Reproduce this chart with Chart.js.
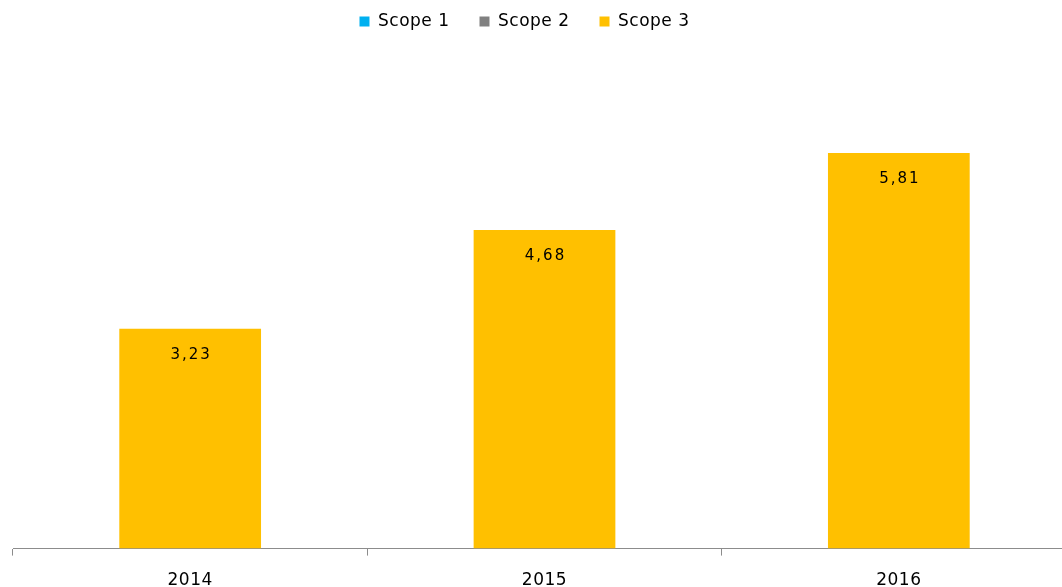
<!DOCTYPE html>
<html>
<head>
<meta charset="utf-8">
<script src="https://cdn.jsdelivr.net/npm/chart.js@4/dist/chart.umd.min.js"></script>
<style>
    html, body { margin: 0; padding: 0; background: #fff; overflow: hidden; }
    #wrap { width: 1090px; height: 606px; }
</style>
</head>
<body>
<div id="wrap"><canvas id="myChart"></canvas></div>
<script>
// Chart data
const years = ['2014', '2015', '2016'];
const scope1 = [0, 0, 0];
const scope2 = [0, 0, 0];
const scope3 = [3.23, 4.68, 5.81];

// Wider letter spacing, the reference font is spaced out
const spacing = {
    id: 'spacing',
    beforeUpdate(chart) { chart.ctx.letterSpacing = '0.5px'; },
    beforeDraw(chart) { chart.ctx.letterSpacing = '0.5px'; },
    beforeInit(chart) {
        // Push the plot area down below the legend
        const fit = chart.legend.fit;
        chart.legend.fit = function () {
            fit.call(this);
            this.height = 89;
        };
    },
    afterLayout(chart) {
        // legend sits a bit left of the centre in the original
        chart.legend.left -= 20;
        chart.legend.right -= 20;
    }
};

// Draws the value inside the top of each Scope 3 bar, with a comma as decimal mark
const valueLabels = {
    id: 'valueLabels',
    afterDatasetsDraw(chart) {
        const ctx = chart.ctx;
        ctx.save();
        ctx.letterSpacing = '2px';
        ctx.font = '15px "DejaVu Sans"';
        ctx.fillStyle = '#000';
        ctx.textAlign = 'center';
        ctx.textBaseline = 'middle';
        chart.data.datasets.forEach((ds, i) => {
            if (ds.label !== 'Scope 3') return;
            chart.getDatasetMeta(i).data.forEach((bar, j) => {
                const text = ds.data[j].toFixed(2).replace('.', ',');
                ctx.fillText(text, bar.x + 1, bar.y + 26);
            });
        });
        ctx.restore();
    }
};

const ctx = document.getElementById('myChart').getContext('2d');
let myChart = new Chart(ctx, {
    type: 'bar',
    data: {
        labels: years,
        datasets: [
            { label: 'Scope 1', data: scope1, backgroundColor: '#00B0F0' },
            { label: 'Scope 2', data: scope2, backgroundColor: '#808080' },
            { label: 'Scope 3', data: scope3, backgroundColor: '#FFC000' },
        ],
    },
    options: {
        responsive: true,
        maintainAspectRatio: false,
        animation: false,
        categoryPercentage: 0.8,
        barPercentage: 0.5,
        layout: { padding: { left: 13, right: 14, top: -17, bottom: 0 } },
        plugins: {
            legend: {
                position: 'top',
                labels: {
                    boxWidth: 10,
                    boxHeight: 10,
                    padding: 30,
                    color: '#000',
                    font: { family: '"DejaVu Sans"', size: 17 },
                },
            },
            tooltip: { enabled: false },
        },
        scales: {
            x: {
                stacked: true,
                border: { color: '#8c8c8c', width: 1 },
                grid: { offset: true, drawOnChartArea: false, color: '#8c8c8c', tickLength: 7 },
                ticks: { color: '#000', font: { family: '"DejaVu Sans"', size: 17 }, padding: 15 },
            },
            y: {
                stacked: true,
                display: false,
                min: 0,
                max: 7,
            },
        },
    },
    plugins: [spacing, valueLabels],
});
</script>
</body>
</html>
